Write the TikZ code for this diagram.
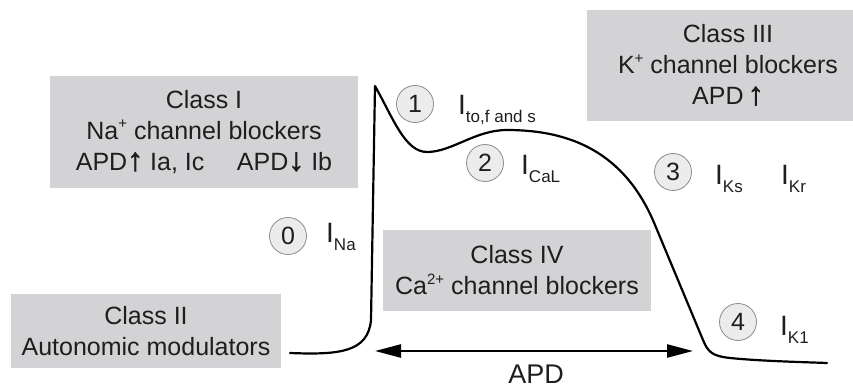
\documentclass[tikz,border=0pt]{standalone}
\usepackage{fontspec}
\setmainfont{Liberation Sans}
\newfontfamily\arrowfont[FakeBold=2]{Liberation Sans Bold}
\usetikzlibrary{arrows.meta}
\definecolor{boxgray}{RGB}{211,211,213}
\definecolor{circfill}{RGB}{236,236,236}
\definecolor{circline}{RGB}{140,140,140}
\definecolor{ink}{RGB}{30,30,30}
\newcommand\curr[1]{I\raisebox{-8pt}{\fontsize{17}{17}\selectfont #1}}
\newcommand\supr[1]{\raisebox{0.42em}{\fontsize{15}{15}\selectfont #1}}
\newcommand\uparr{{\arrowfont\fontsize{32}{32}\selectfont ↑}}
\newcommand\dnarr{{\arrowfont\fontsize{32}{32}\selectfont ↓}}
\begin{document}
\begin{tikzpicture}[x=1pt,y=-1pt,
 classbox/.style={fill=boxgray, draw=none, align=center, text=ink, font=\fontsize{25}{31}\selectfont, inner sep=0pt},
 boxtext/.style={align=center, text=ink, font=\fontsize{25}{31}\selectfont, inner sep=0pt},
 num/.style={circle, fill=circfill, draw=circline, line width=0.8pt, minimum size=37pt, inner sep=0pt, font=\fontsize{25}{25}\selectfont, text=ink},
 curlabel/.style={anchor=base west, inner sep=0pt, text=ink, font=\fontsize{28}{28}\selectfont},
 apcurve/.style={line width=2.2pt, black, line join=round, line cap=round},
 apdarrow/.style={line width=2.4pt, {Triangle[length=26pt,width=13pt]}-{Triangle[length=26pt,width=13pt]}}
]
\useasboundingbox (0,0) rectangle (853,387);
% class boxes
\node[classbox, minimum width=308pt, minimum height=112pt] (c1) at (204,132)
  {Class I\\Na\supr{+} channel blockers\\APD\uparr{} Ia, Ic\hspace{1.3em}APD\dnarr{} Ib};
\node[classbox, minimum width=266pt, minimum height=111pt] (c3) at (720,65.5) {};
\node[boxtext] (c3t) at (728,65) {Class III\\K\supr{+} channel blockers\\APD\,\uparr};
\node[classbox, minimum width=270pt, minimum height=74pt] (c2) at (146,331)
  {Class II\\Autonomic modulators};
\node[classbox, minimum width=268pt, minimum height=81pt] (c4) at (517,270.5)
  {Class IV\\Ca\supr{2+} channel blockers};
% action potential
\draw[apcurve] (290,353) .. controls (340,355) and (368,352) .. (371,320) -- (375,86)
  .. controls (393,118) and (405,152) .. (427,152)
  .. controls (452,152) and (475,130) .. (507,130)
  .. controls (570,130) and (625,152) .. (655,225) -- (703,340)
  .. controls (708,352) and (712,356) .. (730,358)
  .. controls (760,361) and (800,362) .. (827,363);
% APD arrow
\coordinate (apdL) at (375,351);
\coordinate (apdR) at (693,351);
\draw[apdarrow] (apdL) -- (apdR);
\node[boxtext, font=\fontsize{27}{27}\selectfont, anchor=base] (apd) at (536,383) {APD};
% phase circles
\node[num] (p0) at (288,236) {0};
\node[num] (p1) at (415,104) {1};
\node[num] (p2) at (485,163) {2};
\node[num] (p3) at (673,172) {3};
\node[num] (p4) at (738,322) {4};
% currents
\node[curlabel] (ina) at (326,243) {\curr{Na}};
\node[curlabel] (ito) at (458,115) {\curr{to,f and s}};
\node[curlabel] (ical) at (521,175) {\curr{CaL}};
\node[curlabel] (iks) at (715,185) {\curr{Ks}};
\node[curlabel] (ikr) at (781,185) {\curr{Kr}};
\node[curlabel] (ik1) at (780,335) {\curr{K1}};
\end{tikzpicture}
\end{document}
